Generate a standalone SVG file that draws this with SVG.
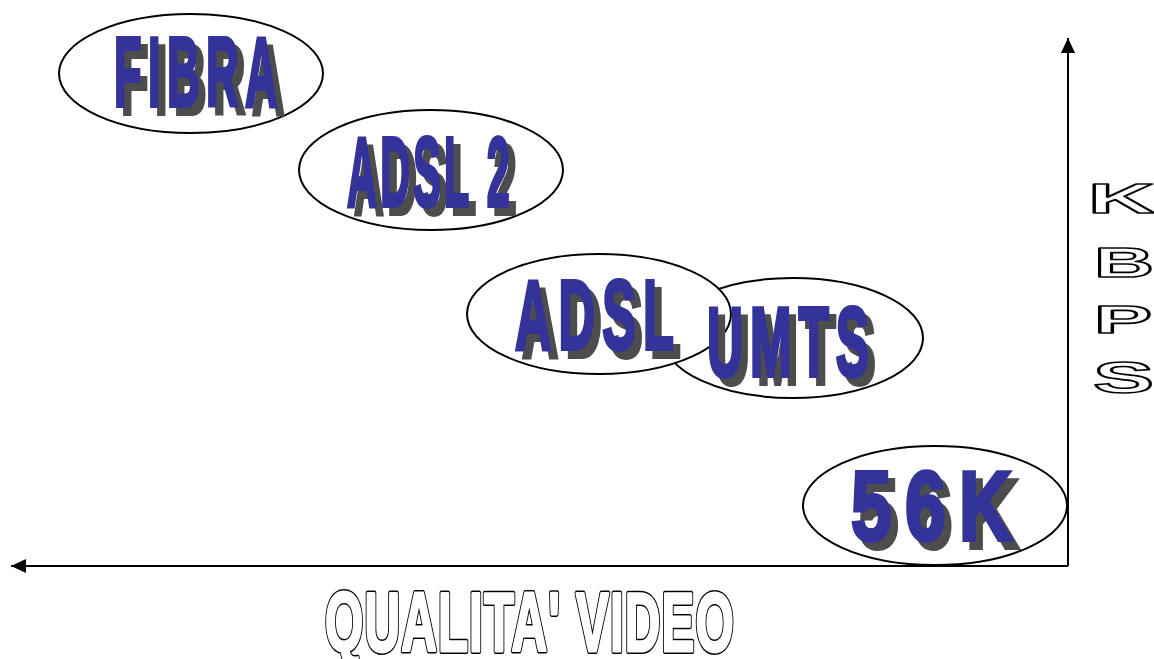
<svg xmlns="http://www.w3.org/2000/svg" width="1154" height="659" viewBox="0 0 1154 659">
  <style>
    .bubble { fill: #ffffff; stroke: #000000; stroke-width: 2; }
    .lbl { font-family: "Liberation Sans", Arial, sans-serif; font-weight: bold; font-size: 99px; letter-spacing: 14px; stroke-width: 4; }
    .shadow { fill: #4d4d4d; stroke: #4d4d4d; }
    .face { fill: #333399; stroke: #333399; }
    .hollow { font-family: "Liberation Sans", Arial, sans-serif; font-weight: bold; }
    .edge { fill: #000000; stroke: #000000; stroke-width: 6; stroke-linejoin: round; }
    .core { fill: #ffffff; stroke: #ffffff; stroke-width: 3; stroke-linejoin: round; }
    .thin { fill: #ffffff; stroke: #000000; stroke-width: 1.6; stroke-linejoin: round; }
    .axis { stroke: #000000; stroke-width: 2; fill: none; }
  </style>
  <defs>
    <marker id="arrow" viewBox="0 0 15 14" refX="15" refY="7" markerWidth="15" markerHeight="14" markerUnits="userSpaceOnUse" orient="auto">
      <path d="M0,0 L15,7 L0,14 Z" fill="#000000"/>
    </marker>
  </defs>

  <rect width="1154" height="659" fill="#ffffff"/>

  <!-- axes -->
  <g id="connectors">
    <path class="axis" d="M1068,566 L1068,38" marker-end="url(#arrow)"/>
    <path class="axis" d="M1068,566 L11,566" marker-end="url(#arrow)"/>
  </g>

  <g id="fibra">
    <ellipse class="bubble" cx="191" cy="73.5" rx="132" ry="59.5"/>
    <text class="lbl shadow" x="121" y="114" textLength="170" lengthAdjust="spacingAndGlyphs">FIBRA</text>
    <text class="lbl face" x="114" y="106" textLength="170" lengthAdjust="spacingAndGlyphs">FIBRA</text>
  </g>

  <g id="adsl2">
    <ellipse class="bubble" cx="431" cy="170" rx="132" ry="60"/>
    <text class="lbl shadow" x="354" y="214" textLength="166" lengthAdjust="spacingAndGlyphs" style="letter-spacing:8px">ADSL 2</text>
    <text class="lbl face" x="347" y="206" textLength="166" lengthAdjust="spacingAndGlyphs" style="letter-spacing:8px">ADSL 2</text>
  </g>

  <g id="umts">
    <ellipse class="bubble" cx="793" cy="338" rx="130" ry="60"/>
  </g>

  <g id="adsl">
    <ellipse class="bubble" cx="599" cy="314" rx="132" ry="60"/>
    <text class="lbl shadow" x="522" y="357" textLength="166" lengthAdjust="spacingAndGlyphs">ADSL</text>
    <text class="lbl face" x="515" y="349" textLength="166" lengthAdjust="spacingAndGlyphs">ADSL</text>
  </g>

  <g id="umts-label">
    <text class="lbl shadow" x="714" y="384" textLength="169" lengthAdjust="spacingAndGlyphs">UMTS</text>
    <text class="lbl face" x="707" y="376" textLength="169" lengthAdjust="spacingAndGlyphs">UMTS</text>
  </g>

  <g id="k56">
    <ellipse class="bubble" cx="935" cy="505.5" rx="132" ry="59.5"/>
    <text class="lbl shadow" x="858" y="548" textLength="174" lengthAdjust="spacingAndGlyphs" style="letter-spacing:18px">56K</text>
    <text class="lbl face" x="851" y="540" textLength="174" lengthAdjust="spacingAndGlyphs" style="letter-spacing:18px">56K</text>
  </g>

  <!-- axis captions: outlined lettering -->
  <g id="x-caption" class="hollow" font-size="84">
    <text class="edge" x="325" y="651" textLength="410" lengthAdjust="spacingAndGlyphs" letter-spacing="2">QUALITA' VIDEO</text>
    <text class="core" x="325" y="651" textLength="410" lengthAdjust="spacingAndGlyphs" letter-spacing="2">QUALITA' VIDEO</text>
  </g>
  <g id="y-caption" class="hollow">
    <text class="thin" x="1088" y="213" font-size="43" textLength="67" lengthAdjust="spacingAndGlyphs">K</text>
    <text class="thin" x="1094" y="277" font-size="42" textLength="60" lengthAdjust="spacingAndGlyphs">B</text>
    <text class="thin" x="1094" y="333" font-size="39" textLength="58" lengthAdjust="spacingAndGlyphs">P</text>
    <text class="thin" x="1093" y="393" font-size="44" textLength="61" lengthAdjust="spacingAndGlyphs">S</text>
  </g>
</svg>
